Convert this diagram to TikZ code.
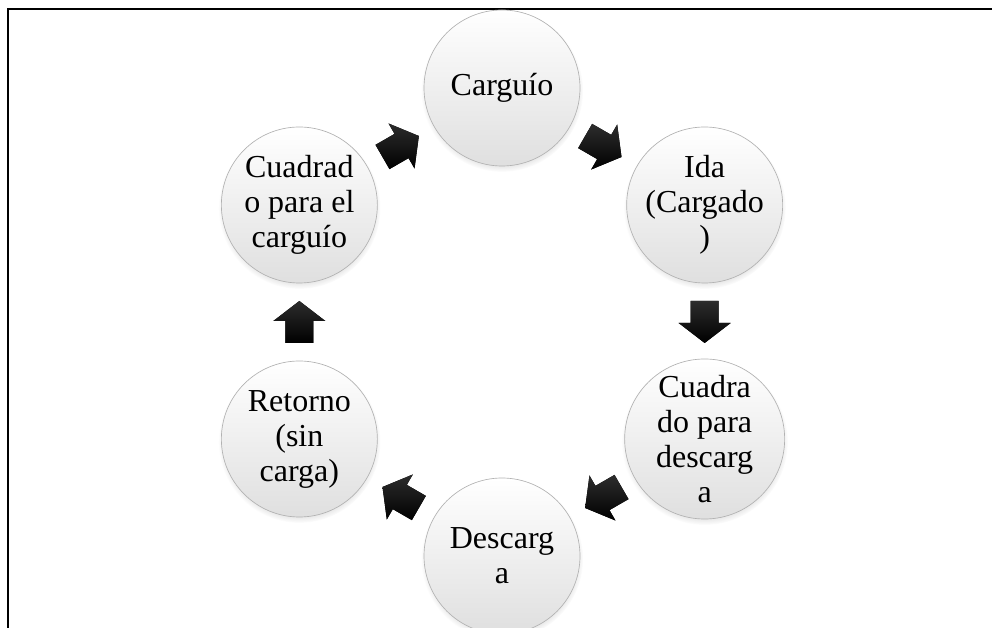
\documentclass[tikz,border=0pt]{standalone}
\usepackage{fontspec}
\setmainfont{Liberation Serif}
\usetikzlibrary{calc,shadows}
\tikzset{
  paso/.style={circle, minimum size=117pt, inner sep=0pt, align=center,
    draw=gray!60, line width=0.5pt, top color=white, middle color=white!96!gray, bottom color=gray!25,
    circular drop shadow={shadow xshift=0pt, shadow yshift=-2pt, shadow scale=1.04, opacity=0.35},
    font=\fontsize{24}{26.25}\selectfont},
  flecha/.style={top color=gray!35!black, bottom color=black}
}
\newcommand{\flechabloque}[2]{\fill[flecha, shift={(#1)}, rotate=#2] (-21,-14) -- (1,-14) -- (1,-26) -- (21,0) -- (1,26) -- (1,14) -- (-21,14) -- cycle;}

\begin{document}
\begin{tikzpicture}[x=0.75pt,y=0.75pt]
    \useasboundingbox (0,0) rectangle (992,628);
    \draw[line width=1.5pt] (8,0) -- (8,619) -- (992,619);

    \coordinate (centro) at (502,306);
    \node[paso] (carguio)  at ($(centro)+(90:234)$)  {Carguío};
    \node[paso] (ida)      at ($(centro)+(30:234)$)  {Ida\\(Cargado\\)};
    \node[paso] (cuadrades) at ($(centro)+(-30:234)$) {Cuadra\\do para\\descarg\\a};
    \node[paso] (descarga) at ($(centro)+(-90:234)$) {Descarg\\a};
    \node[paso] (retorno)  at ($(centro)+(-150:234)$) {Retorno\\(sin\\carga)};
    \node[paso] (cuadracar) at ($(centro)+(150:234)$) {Cuadrad\\o para el\\carguío};

    \foreach \a/\b/\r in {carguio/ida/-30, ida/cuadrades/-90, cuadrades/descarga/-150,
                          descarga/retorno/150, retorno/cuadracar/90, cuadracar/carguio/30}
      \flechabloque{$(\a)!0.5!(\b)$}{\r};
\end{tikzpicture}
\end{document}
